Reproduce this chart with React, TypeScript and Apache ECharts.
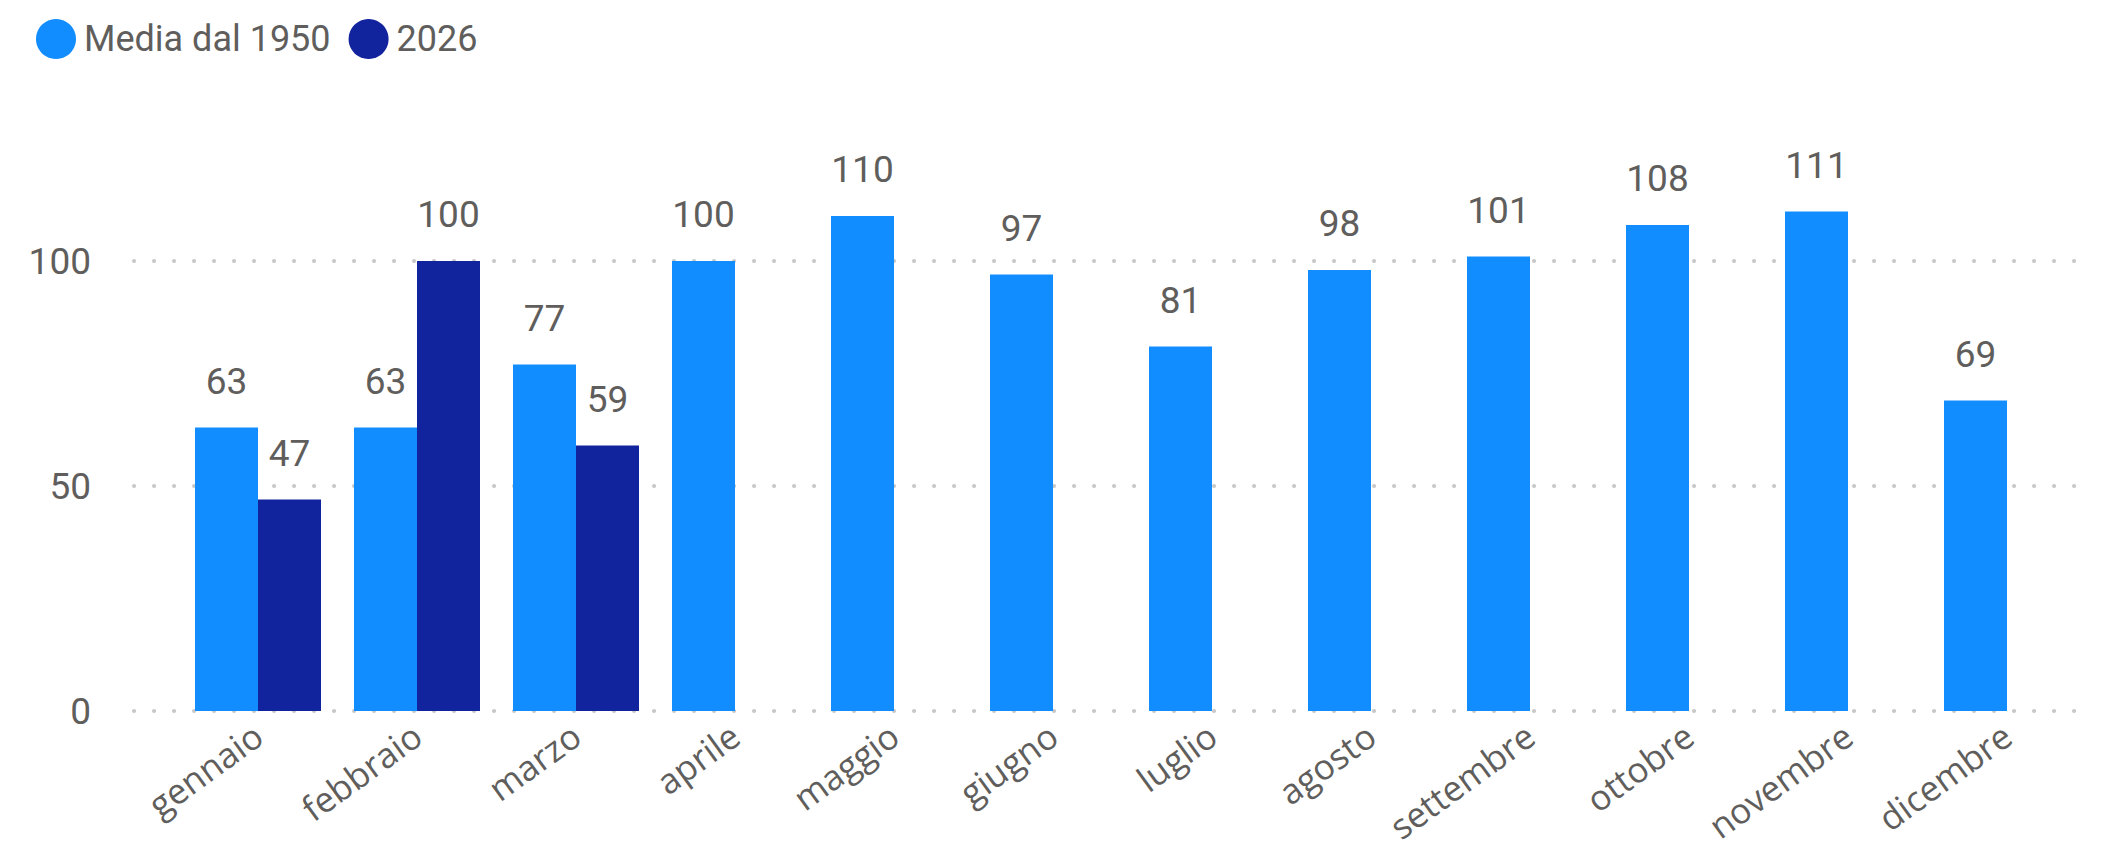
import React, { useEffect, useRef } from "react";
import * as echarts from "echarts";

const months = ["gennaio", "febbraio", "marzo", "aprile", "maggio", "giugno", "luglio", "agosto", "settembre", "ottobre", "novembre", "dicembre"];
const mediaDal1950 = [63, 63, 77, 100, 110, 97, 81, 98, 101, 108, 111, 69];
const anno2026: (number | null)[] = [47, 100, 59, null, null, null, null, null, null, null, null, null];
const seriesNames = ["Media dal 1950", "2026"];
const colors = ["#118DFF", "#12239E"];

const textColor = "#605E5C";
const numFont = "Roboto, 'DejaVu Sans', sans-serif";
const catFont = "'Segoe UI', 'Open Sans', 'Noto Sans', sans-serif";

export default function App() {
  const ref = useRef<HTMLDivElement>(null);
  useEffect(() => {
    if (!ref.current) return;
    const chart = echarts.init(ref.current, undefined, { renderer: "svg" });
    const labelCfg = {
      show: true,
      position: "top" as const,
      distance: 28,
      color: textColor,
      fontFamily: numFont,
      fontSize: 37,
      formatter: (p: any) => (p.value == null ? "" : String(p.value)),
    };
    chart.setOption({
      animation: false,
      backgroundColor: "#ffffff",
      color: colors,
      legend: {
        left: 31,
        top: 14,
        itemWidth: 40,
        itemHeight: 40,
        itemGap: 18,
        icon: "circle",
        textStyle: { color: textColor, fontFamily: numFont, fontSize: 36, padding: [0, 0, 0, 3] },
        data: seriesNames,
      },
      grid: [
        { left: 134, right: 8, top: 171, bottom: 137 },
        { left: 178.5, right: 14.5, top: 171, bottom: 137 },
      ],
      xAxis: [
        { type: "value", gridIndex: 0, show: false, min: 0, max: 1 },
        {
          type: "category",
          gridIndex: 1,
          data: months,
          axisLine: { show: false },
          axisTick: { show: false },
          axisLabel: {
            color: textColor,
            fontFamily: catFont,
            fontSize: 35,
            rotate: 36,
            margin: 20,
            interval: 0,
          },
        },
      ],
      yAxis: [
        {
          type: "value",
          gridIndex: 0,
          min: 0,
          max: 120,
          interval: 50,
          axisLine: { show: false },
          axisTick: { show: false },
          axisLabel: { color: textColor, fontFamily: numFont, fontSize: 37, margin: 43, showMaxLabel: false },
          splitLine: {
            show: true,
            showMaxLine: false,
            lineStyle: { color: "#C8C8C8", width: 4, type: [0.1, 19.9], cap: "round" },
          },
        },
        { type: "value", gridIndex: 1, min: 0, max: 120, show: false, splitLine: { show: false } },
      ],
      series: [
        {
          name: seriesNames[0],
          type: "bar",
          xAxisIndex: 1,
          yAxisIndex: 1,
          data: mediaDal1950,
          barWidth: 63,
          barGap: "0%",
          itemStyle: { color: colors[0] },
          label: labelCfg,
        },
        {
          name: seriesNames[1],
          type: "bar",
          xAxisIndex: 1,
          yAxisIndex: 1,
          data: anno2026,
          barWidth: 63,
          barGap: "0%",
          itemStyle: { color: colors[1] },
          label: labelCfg,
        },
      ],
    });
    return () => chart.dispose();
  }, []);
  return <div ref={ref} style={{ position: "absolute", left: 0, top: 0, width: 2101, height: 848 }} />;
}
